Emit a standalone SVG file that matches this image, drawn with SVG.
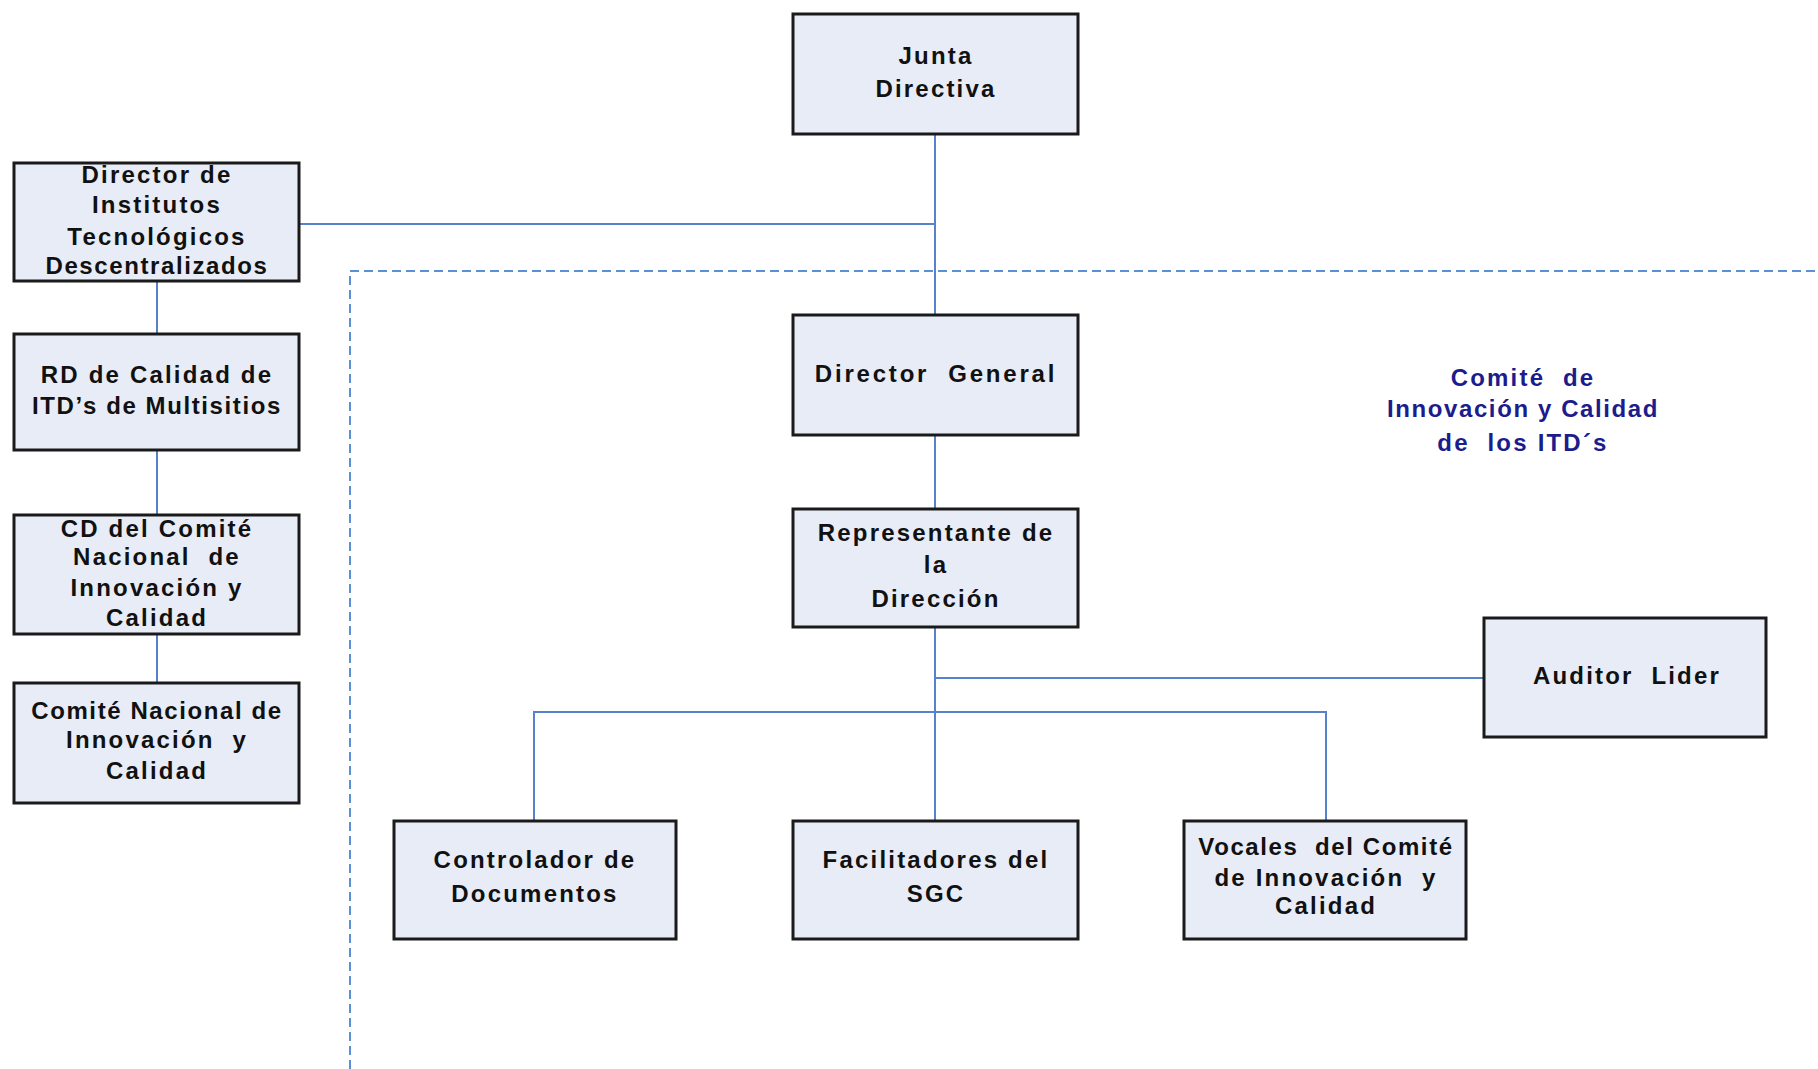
<svg xmlns="http://www.w3.org/2000/svg" width="1818" height="1069" viewBox="0 0 1818 1069">
<style>
.box{fill:#e8ecf6;stroke:#1a1a1a;stroke-width:3}
.t{font-family:"Liberation Sans",Arial,sans-serif;font-weight:bold;font-size:24px;letter-spacing:2.2px;fill:#111;text-anchor:middle;white-space:pre}
.n{fill:#1c1c8c}
.c{fill:none;stroke:#5682cc;stroke-width:2}
.d{fill:none;stroke:#5b8fd6;stroke-width:2;stroke-dasharray:9 5}
</style>
<rect width="1818" height="1069" fill="#fff"/>
<g id="connectors">
<path class="d" d="M350,1069 V271 H1818"/>
<path class="c" d="M935,134 V315"/>
<path class="c" d="M299,224 H935"/>
<path class="c" d="M935,435 V509"/>
<path class="c" d="M935,627 V821"/>
<path class="c" d="M935,678 H1484"/>
<path class="c" d="M534,821 V712 H1326 V821"/>
<path class="c" d="M157,281 V334"/>
<path class="c" d="M157,450 V515"/>
<path class="c" d="M157,634 V683"/>
</g>
<g id="junta"><rect class="box" x="793" y="14" width="285" height="120"/>
<text class="t" x="936" y="64">Junta</text><text class="t" x="936" y="97">Directiva</text></g>
<g id="director-itd"><rect class="box" x="14" y="163" width="285" height="118"/>
<text class="t" x="157" y="183">Director de</text><text class="t" x="157" y="213">Institutos</text><text class="t" x="157" y="245">Tecnológicos</text><text class="t" x="157" y="274" style="letter-spacing:1.6px">Descentralizados</text></g>
<g id="rd-calidad"><rect class="box" x="14" y="334" width="285" height="116"/>
<text class="t" x="157" y="383">RD de Calidad de</text><text class="t" x="157" y="414" style="letter-spacing:1.6px">ITD’s de Multisitios</text></g>
<g id="cd-comite"><rect class="box" x="14" y="515" width="285" height="119"/>
<text class="t" x="157" y="537">CD del Comité</text><text class="t" x="157" y="565">Nacional  de</text><text class="t" x="157" y="596">Innovación y</text><text class="t" x="157" y="626">Calidad</text></g>
<g id="comite-nacional"><rect class="box" x="14" y="683" width="285" height="120"/>
<text class="t" x="157" y="719" style="letter-spacing:1.6px">Comité Nacional de</text><text class="t" x="157" y="748">Innovación  y</text><text class="t" x="157" y="779">Calidad</text></g>
<g id="director-general"><rect class="box" x="793" y="315" width="285" height="120"/>
<text class="t" x="936" y="382" style="letter-spacing:2.8px">Director  General</text></g>
<g id="comite-itd-label">
<text class="t n" x="1523" y="386">Comité  de</text><text class="t n" x="1523" y="417" style="letter-spacing:1.6px">Innovación y Calidad</text><text class="t n" x="1523" y="451">de  los ITD´s</text></g>
<g id="representante"><rect class="box" x="793" y="509" width="285" height="118"/>
<text class="t" x="936" y="541">Representante de</text><text class="t" x="936" y="573">la</text><text class="t" x="936" y="607">Dirección</text></g>
<g id="auditor"><rect class="box" x="1484" y="618" width="282" height="119"/>
<text class="t" x="1627" y="684">Auditor  Lider</text></g>
<g id="controlador"><rect class="box" x="394" y="821" width="282" height="118"/>
<text class="t" x="535" y="868">Controlador de</text><text class="t" x="535" y="902">Documentos</text></g>
<g id="facilitadores"><rect class="box" x="793" y="821" width="285" height="118"/>
<text class="t" x="936" y="868">Facilitadores del</text><text class="t" x="936" y="902">SGC</text></g>
<g id="vocales"><rect class="box" x="1184" y="821" width="282" height="118"/>
<text class="t" x="1326" y="855" style="letter-spacing:1.6px">Vocales  del Comité</text><text class="t" x="1326" y="886">de Innovación  y</text><text class="t" x="1326" y="914">Calidad</text></g>
</svg>
